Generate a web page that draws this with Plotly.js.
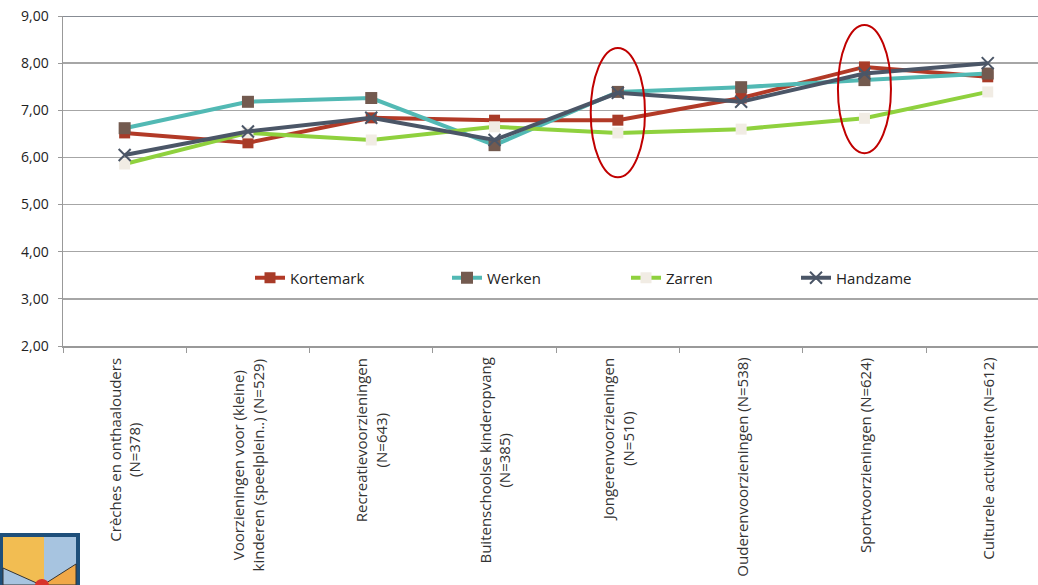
<!DOCTYPE html>
<html><head><meta charset="utf-8">
<script src="https://cdn.plot.ly/plotly-3.0.1.min.js"></script>
<style>html,body{margin:0;padding:0;background:#fff}#chart{width:1038px;height:585px}</style>
</head><body><div id="chart"></div>
<script>
var categories = [
  "Crèches en onthaalouders<br>(N=378)",
  "Voorzieningen voor (kleine)<br>kinderen (speelplein..) (N=529)",
  "Recreatievoorzieningen<br>(N=643)",
  "Buitenschoolse kinderopvang<br>(N=385)",
  "Jongerenvoorzieningen<br>(N=510)",
  "Ouderenvoorzieningen (N=538)",
  "Sportvoorzieningen (N=624)",
  "Culturele activiteiten (N=612)"
];
var seriesNames = ["Kortemark", "Werken", "Zarren", "Handzame"];
var kortemark = [6.52, 6.31, 6.84, 6.79, 6.79, 7.26, 7.92, 7.71];
var werken    = [6.62, 7.18, 7.26, 6.26, 7.39, 7.49, 7.64, 7.78];
var zarren    = [5.86, 6.52, 6.37, 6.65, 6.52, 6.60, 6.83, 7.39];
var handzame  = [6.05, 6.55, 6.84, 6.37, 7.37, 7.18, 7.78, 8.00];
var yTicks = [2, 3, 4, 5, 6, 7, 8, 9];

var xIdx = categories.map(function(_, i){ return i; });
var FONT = "Lato, 'Open Sans', sans-serif";
var FONT2 = "'Open Sans', Lato, sans-serif";

function tr(name, y, lineColor, mSym, mColor, mSize, legendId, extraMarker){
  var m = {symbol: mSym, color: mColor, size: mSize};
  if (extraMarker) for (var k in extraMarker) m[k] = extraMarker[k];
  return {x: xIdx, y: y, name: name, type: 'scatter', mode: 'lines+markers',
    line: {color: lineColor, width: 4}, marker: m, legend: legendId, cliponaxis: false};
}
var data = [
  tr(seriesNames[0], kortemark, '#b23a27', 'square', '#a83b28', 11, 'legend'),
  tr(seriesNames[1], werken, '#52b9b4', 'square', '#735a4f', 12, 'legend2'),
  tr(seriesNames[2], zarren, '#8fd13e', 'square', '#f1ece4', 11, 'legend3'),
  tr(seriesNames[3], handzame, '#4b5667', 'x-thin', '#4b5667', 12, 'legend4', {line: {color: '#4b5667', width: 2}})
];

var pw = 975;
function legendAt(px){
  return {x: (px - 63) / pw, xanchor: 'left', y: (346 - 278) / 330, yanchor: 'middle',
    orientation: 'h', bgcolor: 'rgba(0,0,0,0)', font: {family: FONT2, size: 15, color: '#222'},
    itemwidth: 30, tracegroupgap: 0};
}

var annotations = categories.map(function(c, i){
  return {x: i, xref: 'x', y: 0, yref: 'paper', yanchor: 'top', xanchor: 'center',
    yshift: -10, text: c, textangle: -90, align: 'center', showarrow: false,
    font: {family: FONT2, size: 15, color: '#333'}};
});

var shapes = [
  {type: 'line', xref: 'paper', yref: 'y', x0: 0, x1: 1, y0: 9, y1: 9, line: {color: '#5f6670', width: 1.5}},
  {type: 'circle', xref: 'x', yref: 'y', x0: 3.78, x1: 4.22, y0: 5.58, y1: 8.32, line: {color: '#c00000', width: 2}},
  {type: 'circle', xref: 'x', yref: 'y', x0: 5.785, x1: 6.215, y0: 6.09, y1: 8.81, line: {color: '#c00000', width: 2}},
  // logo (decorative)
  {type: 'rect', xref: 'paper', yref: 'paper', x0: -63/pw, x1: 17/pw, y0: -239/330, y1: -187/330, fillcolor: '#1e4f7a', line: {width: 0}, layer: 'above'},
  {type: 'rect', xref: 'paper', yref: 'paper', x0: -60/pw, x1: -19/pw, y0: -239/330, y1: -191/330, fillcolor: '#f2bd52', line: {width: 0}, layer: 'above'},
  {type: 'rect', xref: 'paper', yref: 'paper', x0: -19/pw, x1: 13/pw, y0: -239/330, y1: -191/330, fillcolor: '#a7c4e0', line: {width: 0}, layer: 'above'},
  {type: 'path', xref: 'paper', yref: 'paper', path: 'M ' + (-60/pw) + ' ' + (-222/330) + ' L ' + (-22/pw) + ' ' + (-239/330) + ' L ' + (-60/pw) + ' ' + (-239/330) + ' Z', fillcolor: '#a7c4e0', line: {color: '#333', width: 1}, layer: 'above'},
  {type: 'path', xref: 'paper', yref: 'paper', path: 'M ' + (13/pw) + ' ' + (-218/330) + ' L ' + (-20/pw) + ' ' + (-239/330) + ' L ' + (13/pw) + ' ' + (-239/330) + ' Z', fillcolor: '#f0a848', line: {color: '#333', width: 1}, layer: 'above'},
  {type: 'circle', xref: 'paper', yref: 'paper', x0: -28/pw, x1: -14/pw, y0: -245/330, y1: -233/330, fillcolor: '#d8332b', line: {width: 0}, layer: 'above'}
];

var layout = {
  width: 1038, height: 585,
  margin: {l: 63, r: 0, t: 16, b: 239},
  paper_bgcolor: '#fff', plot_bgcolor: '#fff',
  separators: ', ',
  showlegend: true,
  font: {family: FONT, size: 14, color: '#222'},
  xaxis: {type: 'linear', range: [-0.5, -0.5 + pw / 123.3], showgrid: false, zeroline: false,
    showline: true, linecolor: '#999', linewidth: 1.5, showticklabels: false,
    ticks: 'outside', ticklen: 5, tickcolor: '#999', tick0: -0.5, dtick: 1, fixedrange: true},
  yaxis: {range: [2, 9], tickvals: yTicks, tickformat: '.2f', showgrid: true, gridcolor: '#a6a6a6', gridwidth: 1.5,
    zeroline: false, showline: true, linecolor: '#999', linewidth: 1.5, ticks: 'outside', ticklen: 4, tickcolor: '#999',
    tickfont: {family: FONT2, size: 14, color: '#222'}, ticklabelstandoff: 6},
  legend: legendAt(250),
  legend2: legendAt(447),
  legend3: legendAt(626),
  legend4: legendAt(796),
  annotations: annotations,
  shapes: shapes
};
Plotly.newPlot('chart', data, layout, {staticPlot: true});
</script></body></html>
